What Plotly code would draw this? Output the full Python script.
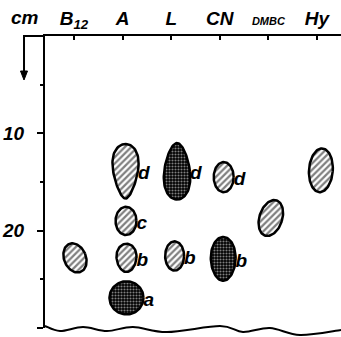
import numpy as np
import plotly.graph_objects as go

# ---- data ----
lane_labels = ["B<sub>12</sub>", "A", "L", "CN", "<span style='font-size:11px'>DMBC</span>", "Hy"]
lane_ticks = [1, 2, 3, 4, 5, 6]

spot_x = [1.02, 2.06, 2.07, 2.08, 2.08, 3.12, 3.07, 4.08, 4.07, 5.05, 6.08]   # lane position
spot_cm = [22.8, 13.9, 19.0, 22.8, 26.9, 13.9, 22.6, 14.5, 22.9, 18.7, 13.8]  # migration distance
spot_h = [3.1, 5.6, 2.9, 2.9, 3.4, 5.8, 3.0, 3.1, 4.5, 3.8, 4.5]              # length in cm
spot_w = [0.45, 0.51, 0.43, 0.41, 0.70, 0.53, 0.39, 0.41, 0.51, 0.47, 0.49]   # width in lane units
spot_fill = ["hatch", "hatch", "hatch", "hatch", "cross", "cross", "hatch", "hatch", "cross", "hatch", "hatch"]
spot_tilt = [-22, 0, 0, 0, 0, 0, 0, 0, 0, 18, 4]
spot_taper = [0, 0.35, 0, 0.1, 0, -0.25, 0, 0, 0.05, 0, 0]
spot_label = ["", "d", "c", "b", "a", "d", "b", "d", "b", "", ""]

y_ticks = [10, 20, 30]

# ---- geometry ----
W, H = 341, 337
ML, MR, MT, MB = 45, 0, 36, 9
X0, X1 = 0.403, 6.494
PX_PER_X = (W - ML - MR) / (X1 - X0)
PX_PER_CM = (H - MT - MB) / 30.0

FONT = "Liberation Sans"

fig = go.Figure()

t = np.linspace(0, 2 * np.pi, 90)
for i in range(len(spot_x)):
    a = spot_w[i] / 2 * PX_PER_X
    b = spot_h[i] / 2 * PX_PER_CM
    s = np.sin(t)
    dx = a * np.cos(t) * (1 - spot_taper[i] * s)
    dy = b * s
    th = np.radians(spot_tilt[i])
    rx = dx * np.cos(th) - dy * np.sin(th)
    ry = dx * np.sin(th) + dy * np.cos(th)
    xs = spot_x[i] + rx / PX_PER_X
    ys = spot_cm[i] + ry / PX_PER_CM
    if spot_fill[i] == "hatch":
        pat = dict(shape="/", fgcolor="black", bgcolor="white", size=4.5, solidity=0.5)
    else:
        pat = dict(shape=".", fgcolor="white", bgcolor="black", size=3, solidity=0.4)
    fig.add_trace(go.Scatter(
        x=xs, y=ys, mode="lines", fill="toself", fillpattern=pat,
        line=dict(color="black", width=2.5), hoverinfo="skip", showlegend=False))

# spot letters
lx, ly, lt = [], [], []
for i in range(len(spot_x)):
    if spot_label[i]:
        lx.append(spot_x[i] + spot_w[i] / 2)
        ly.append(spot_cm[i] + 0.3)
        lt.append(spot_label[i])
fig.add_trace(go.Scatter(
    x=lx, y=ly, text=lt, mode="text", textposition="middle right",
    textfont=dict(family=FONT, size=19, color="black", weight="bold", style="italic"),
    hoverinfo="skip", showlegend=False))

# ---- wavy bottom edge of the paper ----
def px2paper(px, py):
    return (px - ML) / (W - ML - MR), (H - MB - py) / (H - MT - MB)

wave_px = [(45, 326), (60, 331), (83, 327), (107, 331), (133, 327), (167, 332),
           (220, 326), (243, 332), (270, 328), (300, 335), (341, 330)]
pts = [px2paper(*p) for p in wave_px]
path = "M {:.4f},{:.4f}".format(*pts[0])
for k in range(len(pts) - 1):
    p0 = pts[k - 1] if k > 0 else pts[k]
    p1, p2 = pts[k], pts[k + 1]
    p3 = pts[k + 2] if k + 2 < len(pts) else pts[k + 1]
    c1 = (p1[0] + (p2[0] - p0[0]) / 6, p1[1] + (p2[1] - p0[1]) / 6)
    c2 = (p2[0] - (p3[0] - p1[0]) / 6, p2[1] - (p3[1] - p1[1]) / 6)
    path += " C {:.4f},{:.4f} {:.4f},{:.4f} {:.4f},{:.4f}".format(*c1, *c2, *p2)
fig.add_shape(type="path", path=path, xref="paper", yref="paper",
              line=dict(color="black", width=2))

# top line extension and arrow on the left
xl, ytop = px2paper(24, 36)
_, yshaft = px2paper(0, 72)
fig.add_shape(type="path", xref="paper", yref="paper",
              path="M {:.4f},{:.4f} L {:.4f},1 L 0,1".format(xl, yshaft, xl),
              line=dict(color="black", width=2))
xa1, ya1 = px2paper(20.5, 71)
xa2, ya2 = px2paper(27.5, 71)
xa3, ya3 = px2paper(24, 80)
fig.add_shape(type="path", xref="paper", yref="paper",
              path="M {:.4f},{:.4f} L {:.4f},{:.4f} L {:.4f},{:.4f} Z".format(xa1, ya1, xa2, ya2, xa3, ya3),
              line=dict(color="black", width=1), fillcolor="black")
xc, yc = px2paper(25, 18)
fig.add_annotation(xref="paper", yref="paper", x=xc, y=yc, text="cm", showarrow=False,
                   xanchor="center", yanchor="middle",
                   font=dict(family=FONT, size=19, color="black", weight="bold", style="italic"))

fig.update_layout(
    width=W, height=H,
    margin=dict(l=ML, r=MR, t=MT, b=MB, pad=0),
    paper_bgcolor="white", plot_bgcolor="white",
    xaxis=dict(range=[X0, X1], side="top", tickvals=lane_ticks, ticktext=lane_labels,
               automargin=False,
               showgrid=False, zeroline=False, showline=True, linecolor="black",
               linewidth=2, ticks="inside", ticklen=4, tickwidth=2, tickcolor="black",
               ticklabelstandoff=1,
               tickfont=dict(family=FONT, size=19, color="black", weight="bold", style="italic")),
    yaxis=dict(range=[30, 0], tickvals=y_ticks, showgrid=False, zeroline=False,
               automargin=False,
               showline=True, linecolor="black", linewidth=2,
               ticks="outside", ticklen=6, tickwidth=2, tickcolor="black",
               ticklabelstandoff=9,
               minor=dict(tickvals=[5, 15, 25], ticks="outside", ticklen=3,
                          tickwidth=2, tickcolor="black"),
               tickfont=dict(family=FONT, size=19, color="black", weight="bold", style="italic")),
)

fig.write_html("out.html", post_script="document.body.style.margin='0px';",
               config={"displayModeBar": False})
